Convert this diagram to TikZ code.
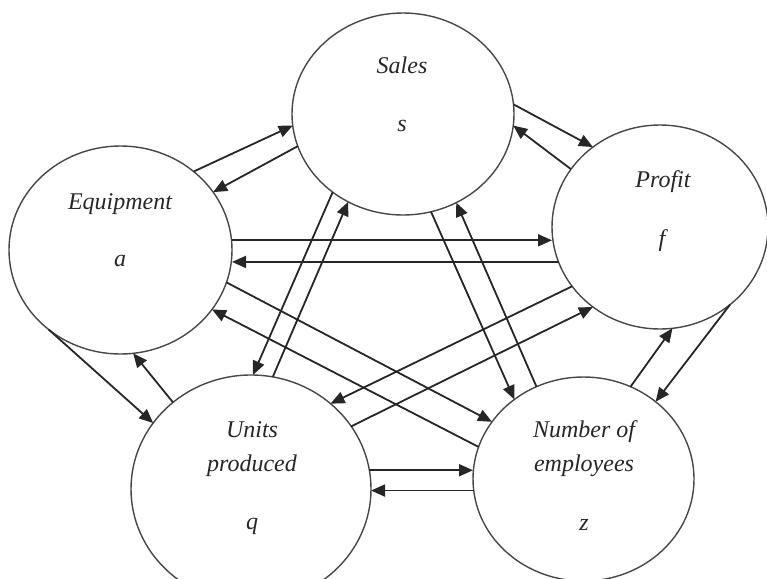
\documentclass[tikz,border=0pt]{standalone}
\usepackage{fontspec}
\setmainfont{Liberation Serif}
\usetikzlibrary{arrows.meta,shapes.geometric}
\begin{document}
\begin{tikzpicture}[x=1pt,y=-1pt,
  var/.style={ellipse,draw=black!72,line width=1.4pt,inner sep=0pt,outer sep=0pt},
  lab/.style={font=\fontsize{24}{28}\selectfont\itshape,anchor=base,inner sep=0pt,text=black!85},
  link/.style={draw=black!85,line width=1.8pt,-{Triangle[length=14pt,width=12pt]}}]
\useasboundingbox (0,0) rectangle (767,578);

% the five variables
\node[var,minimum width=222pt,minimum height=202pt] (S) at (403,114) {};
\node[var,minimum width=223pt,minimum height=208pt] (E) at (120.5,250) {};
\node[var,minimum width=216pt,minimum height=204pt] (P) at (660,227) {};
\node[var,minimum width=240pt,minimum height=228pt] (U) at (251,489) {};
\node[var,minimum width=221pt,minimum height=204pt] (Z) at (583.5,479) {};

% their names and symbols
\node[lab] (Sname) at (402,73) {Sales};
\node[lab] (Ssym)  at (402,131) {s};
\node[lab] (Ename) at (120,209) {Equipment};
\node[lab] (Esym)  at (120,266) {a};
\node[lab] (Pname) at (663,187) {Profit};
\node[lab] (Psym)  at (662,246) {f};
\node[lab] (Uname1) at (252,437) {Units};
\node[lab] (Uname2) at (252,471) {produced};
\node[lab] (Usym)  at (252,529) {q};
\node[lab] (Zname1) at (584,437) {Number of};
\node[lab] (Zname2) at (584,471) {employees};
\node[lab] (Zsym)  at (584,530) {z};

% Equipment -- Sales
\draw[link] (E.47.5) -- (S.186);
\draw[link] (S.197) -- (E.32);
% Sales -- Profit
\draw[link] (S.5) -- (P.130);
\draw[link] (P.147) -- (S.-6.6);
% Equipment -- Profit (level)
\draw[link] (E.5.1) -- (E.5.1 -| P.west);
\draw[link] (P.199) -- (P.199 -| E.east);
% Equipment -- Number of employees
\draw[link] (E.-17.6) -- (Z.148.1);
\draw[link] (Z.163.2) -- (E.-33);
% Equipment -- Units produced
\draw[link] (E.-132) -- (U.146.2);
\draw[link] (U.132) -- (E.-83);
% Sales -- Units produced
\draw[link] (S.228.8) -- (U.89);
\draw[link] (U.79.7) -- (S.238.7);
% Sales -- Number of employees
\draw[link] (S.286.4) -- (Z.131.4);
\draw[link] (Z.117) -- (S.301.2);
% Profit -- Units produced
\draw[link] (P.214) -- (U.47.4);
\draw[link] (U.32.9) -- (P.230);
% Profit -- Number of employees
\draw[link] (Z.63.7) -- (P.277);
\draw[link] (P.-48) -- (Z.47.8);
% Units produced -- Number of employees (level)
\draw[link] (U.9) -- (U.9 -| Z.west);
\draw[link] (Z.186.2) -- (Z.186.2 -| U.east);
\end{tikzpicture}
\end{document}
